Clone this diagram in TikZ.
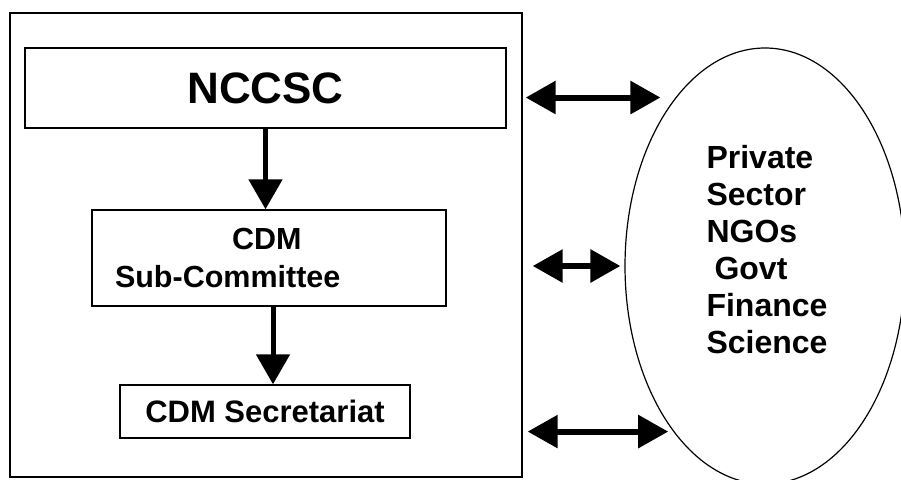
\documentclass[tikz,border=0pt]{standalone}
\usepackage{fontspec}
\setmainfont{Liberation Sans}
\usetikzlibrary{arrows.meta,shapes.geometric}
\begin{document}
\begin{tikzpicture}[x=1pt, y=-1pt,
    box/.style={draw, line width=1.4pt, inner sep=0pt},
    flow/.style={line width=5pt, -{Triangle[length=30pt, width=33pt]}},
    link/.style={line width=6pt, {Triangle[length=30pt, width=32pt]}-{Triangle[length=30pt, width=32pt]}}]
    \useasboundingbox (0,0) rectangle (901,479);
    \node[box, minimum width=512pt, minimum height=464pt] (outer) at (266,245) {};
    \node[box, minimum width=481pt, minimum height=80pt, font=\bfseries\fontsize{44}{50}\selectfont] (nccsc) at (265.5,88) {NCCSC};
    \node[box, minimum height=96pt, text width=308pt, inner xsep=23pt, align=left, font=\bfseries\fontsize{30.5}{38}\selectfont] (cdm) at (269,258) {\hspace*{117pt}CDM\\Sub-Committee};
    \node[box, minimum width=290pt, minimum height=53pt, font=\bfseries\fontsize{31}{36}\selectfont] (sec) at (265,411.5) {CDM Secretariat};
    \node[draw, ellipse, line width=1.2pt, minimum width=280pt, minimum height=436pt, inner sep=0pt] (grp) at (765,266) {};
    \node[align=left, font=\bfseries\fontsize{32}{37}\selectfont] (members) at (767,250) {Private\\Sector\\NGOs\\\hspace*{8pt}Govt\\Finance\\Science};
    \draw[flow] (nccsc.south) -- (nccsc.south |- cdm.north);
    \draw[flow] ([xshift=4pt]cdm.south) -- ([xshift=4pt]cdm.south |- sec.north);
    \draw[link, shorten >=15pt] ([xshift=3pt]outer.east |- grp.118) -- (grp.118);
    \draw[link, shorten >=4pt] ([xshift=10pt]outer.east |- grp.west) -- (grp.west);
    \draw[link, shorten >=5pt] ([xshift=5pt]outer.east |- grp.241) -- (grp.241);
  \end{tikzpicture}
\end{document}
